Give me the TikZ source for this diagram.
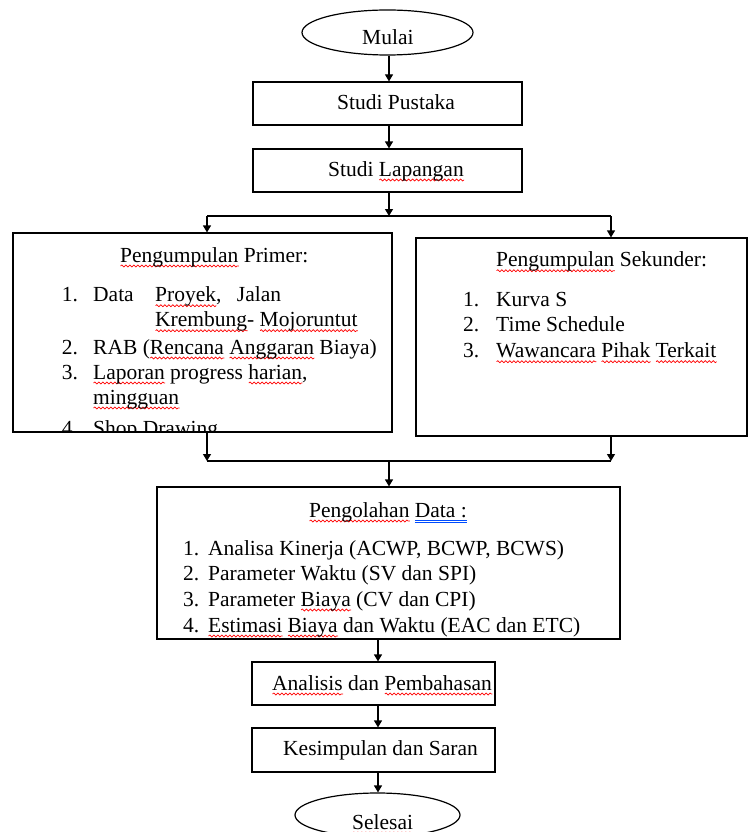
\documentclass[tikz,border=0pt]{standalone}
\usepackage{fontspec}
\setmainfont{Liberation Serif}
\usetikzlibrary{arrows.meta,shapes.geometric,decorations.pathmorphing}
\newsavebox\sqbox
\newdimen\sqw
\newcommand\sq[1]{\sbox\sqbox{#1}\sqw=\wd\sqbox\leavevmode\rlap{\tikz[baseline=0pt]\draw[red, line width=0.7pt, decorate, decoration={snake, amplitude=1pt, segment length=4pt}] (0pt,-4pt) -- (\sqw,-4pt);}\usebox\sqbox}
\newcommand\dbl[1]{\sbox\sqbox{#1}\leavevmode\rlap{\color{blue!70!cyan}\rule[-3.6pt]{\wd\sqbox}{0.8pt}}\rlap{\color{blue!70!cyan}\rule[-5.8pt]{\wd\sqbox}{0.8pt}}\usebox\sqbox}
\tikzset{
  box/.style={draw=black, line width=1.2pt, inner sep=0pt, fill=white},
  term/.style={box, ellipse},
  txt/.style={font=\fontsize{21.5}{25}\selectfont, inner sep=0pt, anchor=base west, text=black},
  arr/.style={line width=1.2pt, -{Triangle[length=7pt,width=8pt]}},
  ln/.style={line width=1.2pt}
}
\begin{document}
\begin{tikzpicture}[x=1pt,y=-1pt]
\clip (0,0) rectangle (749,832);
\fill[white] (0,0) rectangle (749,832);
% shapes
\node[term, minimum width=171pt, minimum height=45pt] (mulai) at (387.5,32.5) {};
\node[box, minimum width=269pt, minimum height=43pt] (sp) at (387.5,103.5) {};
\node[box, minimum width=269pt, minimum height=43pt] (sl) at (387.5,170.5) {};
\node[box, minimum width=379pt, minimum height=199pt] (prim) at (202.5,332.5) {};
\node[box, minimum width=331pt, minimum height=198pt] (sek) at (581.5,337) {};
\node[box, minimum width=463pt, minimum height=152pt] (olah) at (388.5,563) {};
\node[box, minimum width=243pt, minimum height=43pt] (ana) at (373.5,683.5) {};
\node[box, minimum width=243pt, minimum height=44pt] (kes) at (373.5,750) {};
\node[term, minimum width=165pt, minimum height=44pt] (sel) at (377.5,815) {};
% texts
\node[txt] (tmulai) at (362,45) {Mulai};
\node[txt] (tsp) at (337,110) {Studi Pustaka};
\node[txt] (tsl) at (328,176) {Studi \sq{Lapangan}};
\node[txt] (tprim) at (120,262) {\sq{Pengumpulan} Primer:};
\node[txt] (p1n) at (61.7,301.7) {1.};
\node[txt] (p1a) at (93,301.7) {Data};
\node[txt] (p1b) at (155,301.7) {\sq{Proyek},};
\node[txt] (p1c) at (236.7,301.7) {Jalan};
\node[txt] (p1d) at (155,326.7) {\sq{Krembung}- \sq{Mojoruntut}};
\node[txt] (p2n) at (61.7,354) {2.};
\node[txt] (p2) at (93,354) {RAB (\sq{Rencana} \sq{Anggaran} Biaya)};
\node[txt] (p3n) at (61.7,379) {3.};
\node[txt] (p3) at (93,379) {\sq{Laporan} progress \sq{harian},};
\node[txt] (p3b) at (93,404) {\sq{mingguan}};
\begin{scope}
\clip (prim.north west) rectangle (prim.south east);
\node[txt] (p4n) at (61.7,435) {4.};
\node[txt] (p4) at (93,435) {Shop Drawing};
\end{scope}
\draw[ln] (prim.south west) -- (prim.south east);
\node[txt] (tsek) at (496,266.7) {\sq{Pengumpulan} Sekunder:};
\node[txt] (s1n) at (463,306) {1.};
\node[txt] (s1) at (496,306) {Kurva S};
\node[txt] (s2n) at (463,331.7) {2.};
\node[txt] (s2) at (496,331.7) {Time Schedule};
\node[txt] (s3n) at (463,357.7) {3.};
\node[txt] (s3) at (496,357.7) {\sq{Wawancara} \sq{Pihak} \sq{Terkait}};
\node[txt] (tolah) at (309,517) {\sq{Pengolahan} \dbl{Data :}};
\node[txt] (o1n) at (183,555) {1.};
\node[txt] (o1) at (208,555) {Analisa Kinerja (ACWP, BCWP, BCWS)};
\node[txt] (o2n) at (183,580) {2.};
\node[txt] (o2) at (208,580) {Parameter Waktu (SV dan SPI)};
\node[txt] (o3n) at (183,606) {3.};
\node[txt] (o3) at (208,606) {Parameter \sq{Biaya} (CV dan CPI)};
\node[txt] (o4n) at (183,632) {4.};
\node[txt] (o4) at (208,632) {\sq{Estimasi} \sq{Biaya} dan Waktu (EAC dan ETC)};
\node[txt] (tana) at (272,690) {\sq{Analisis} dan \sq{Pembahasan}};
\node[txt] (tkes) at (283,755) {Kesimpulan dan Saran};
\node[txt] (tsel) at (352,829) {\sq{Selesai}};
% connectors
\coordinate (cx) at (389,0);
\coordinate (jt) at (389,216);
\coordinate (jl) at (207,216);
\coordinate (jr) at (611,216);
\coordinate (bl) at (207,461);
\coordinate (br) at (611,461);
\coordinate (bm) at (389,461);
\coordinate (dx) at (378,0);
\draw[arr] (cx |- mulai.south) -- (cx |- sp.north);
\draw[arr] (cx |- sp.south) -- (cx |- sl.north);
\draw[arr] (cx |- sl.south) -- (jt);
\draw[ln] (jl) -- (jr);
\draw[arr] (jl) -- (jl |- prim.north);
\draw[arr] (jr) -- (jr |- sek.north);
\draw[arr] (bl |- prim.south) -- (bl);
\draw[arr] (br |- sek.south) -- (br);
\draw[ln] (bl) -- (br);
\draw[arr] (bm) -- (bm |- olah.north);
\draw[arr] (dx |- olah.south) -- (dx |- ana.north);
\draw[arr] (dx |- ana.south) -- (dx |- kes.north);
\draw[arr] (dx |- kes.south) -- (dx |- sel.north);
\end{tikzpicture}
\end{document}
